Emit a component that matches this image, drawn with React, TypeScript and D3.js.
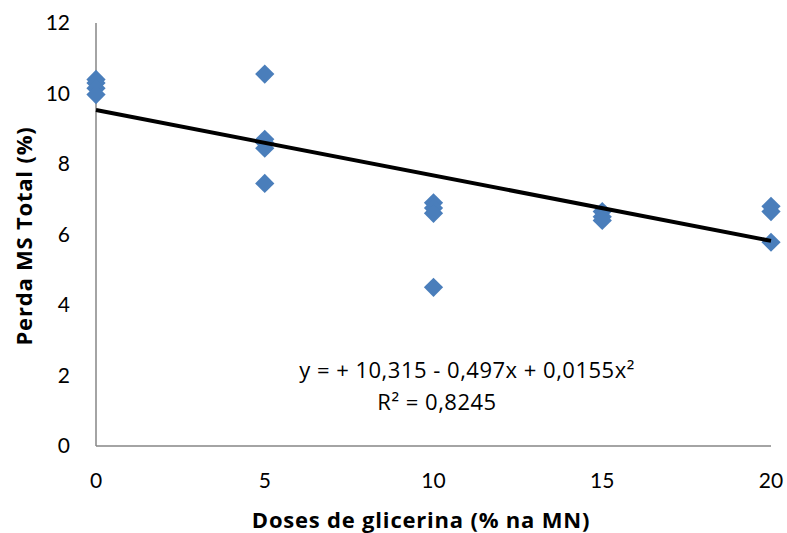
import { useEffect, useRef } from 'react';
import * as d3 from 'd3';

// dose (% na MN) for each observation
const doses = [0, 0, 0, 0, 5, 5, 5, 5, 5, 10, 10, 10, 10, 15, 15, 15, 20, 20, 20];
// perda MS total (%) for each observation
const perdas = [10.4, 10.3, 10.15, 9.97, 10.55, 8.7, 8.6, 8.45, 7.45, 6.9, 6.75, 6.6, 4.5, 6.65, 6.5, 6.4, 6.8, 6.65, 5.78];

// trend line as drawn in the original
const trendX = [0, 20];
const trendY = [9.53, 5.82];

const xTicks = [0, 5, 10, 15, 20];
const yTicks = [0, 2, 4, 6, 8, 10, 12];

const equation = 'y = + 10,315 - 0,497x + 0,0155x²';
const r2 = 'R² = 0,8245';
const xTitle = 'Doses de glicerina (% na MN)';
const yTitle = 'Perda MS Total (%)';

const W = 787;
const H = 533;
const TICK_FONT = 'Lato, "Open Sans", sans-serif';
const FONT = '"Open Sans", Lato, sans-serif';

export default function App() {
  const svgRef = useRef<SVGSVGElement>(null);

  useEffect(() => {
    if (!svgRef.current) return;
    const svg = d3.select(svgRef.current);
    svg.selectAll('*').remove();

    const x = d3.scaleLinear().domain([0, 20]).range([96, 771]);
    const y = d3.scaleLinear().domain([0, 12]).range([446, 23]);

    // axes
    const axisColor = '#868686';
    svg
      .append('line')
      .attr('x1', x(0)).attr('x2', x(0))
      .attr('y1', y(12)).attr('y2', y(0))
      .attr('stroke', axisColor).attr('stroke-width', 1.5);
    svg
      .append('line')
      .attr('x1', x(0)).attr('x2', x(20))
      .attr('y1', y(0)).attr('y2', y(0))
      .attr('stroke', axisColor).attr('stroke-width', 1.5);

    // tick labels
    svg
      .selectAll('.ytick')
      .data(yTicks)
      .enter()
      .append('text')
      .attr('x', 70)
      .attr('y', (d) => y(d))
      .attr('dy', '0.35em')
      .attr('text-anchor', 'end')
      .attr('font-family', TICK_FONT)
      .attr('font-size', 21)
      .text((d) => d);

    svg
      .selectAll('.xtick')
      .data(xTicks)
      .enter()
      .append('text')
      .attr('x', (d) => x(d))
      .attr('y', 481)
      .attr('dy', '0.35em')
      .attr('text-anchor', 'middle')
      .attr('font-family', TICK_FONT)
      .attr('font-size', 21)
      .text((d) => d);

    // points
    const pts = doses.map((d, i) => ({ x: d, y: perdas[i] }));
    const diamond = d3.symbol().type(d3.symbolSquare).size(185);
    svg
      .selectAll('.pt')
      .data(pts)
      .enter()
      .append('path')
      .attr('d', diamond)
      .attr('transform', (d) => `translate(${x(d.x)},${y(d.y)}) rotate(45)`)
      .attr('fill', '#4a7ebb');

    // trend line
    const line = d3
      .line<number>()
      .x((d) => x(d))
      .y((_, i) => y(trendY[i]));
    svg
      .append('path')
      .attr('d', line(trendX))
      .attr('fill', 'none')
      .attr('stroke', '#000')
      .attr('stroke-width', 4);

    // equation
    svg
      .append('text')
      .attr('x', 467)
      .attr('y', 370)
      .attr('dy', '0.35em')
      .attr('text-anchor', 'middle')
      .attr('font-family', FONT)
      .attr('font-size', 22)
      .attr('letter-spacing', 0.5)
      .text(equation);
    svg
      .append('text')
      .attr('x', 437)
      .attr('y', 402)
      .attr('dy', '0.35em')
      .attr('text-anchor', 'middle')
      .attr('font-family', FONT)
      .attr('font-size', 22)
      .attr('letter-spacing', 0.5)
      .text(r2);

    // axis titles
    svg
      .append('text')
      .attr('x', 421)
      .attr('y', 520)
      .attr('dy', '0.35em')
      .attr('text-anchor', 'middle')
      .attr('font-family', FONT)
      .attr('font-weight', 'bold')
      .attr('font-size', 22)
      .attr('letter-spacing', 0.8)
      .text(xTitle);
    svg
      .append('text')
      .attr('transform', 'translate(24,236) rotate(-90)')
      .attr('dy', '0.35em')
      .attr('text-anchor', 'middle')
      .attr('font-family', FONT)
      .attr('font-weight', 'bold')
      .attr('font-size', 22)
      .attr('letter-spacing', 0.8)
      .text(yTitle);
  }, []);

  return (
    <svg
      ref={svgRef}
      width={W}
      height={H}
      style={{ position: 'absolute', left: 0, top: 0, background: '#fff' }}
    />
  );
}
